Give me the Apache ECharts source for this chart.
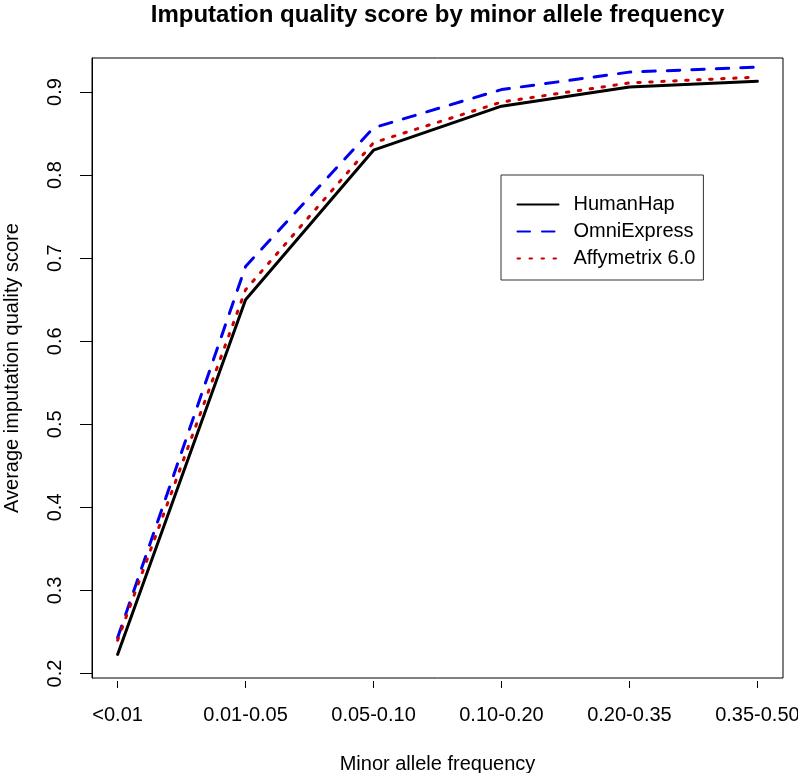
<!DOCTYPE html>
<html>
<head>
<meta charset="utf-8">
<script src="https://cdn.jsdelivr.net/npm/echarts@6/dist/echarts.min.js"></script>
<style>
html,body{margin:0;padding:0;background:#fff;}
#chart{width:798px;height:773px;}
</style>
</head>
<body>
<div id="chart"></div>
<script>
const categories = ['<0.01', '0.01-0.05', '0.05-0.10', '0.10-0.20', '0.20-0.35', '0.35-0.50'];
const humanHap = [0.223, 0.650, 0.830, 0.883, 0.906, 0.913];
const omniExpress = [0.243, 0.690, 0.857, 0.903, 0.924, 0.930];
const affymetrix = [0.240, 0.662, 0.839, 0.888, 0.911, 0.918];
const yTicks = [0.2, 0.3, 0.4, 0.5, 0.6, 0.7, 0.8, 0.9];
const xTicks = categories.map((c, i) => i);

const FONT = "'Liberation Sans', Arial, Helvetica, sans-serif";
const toPts = arr => arr.map((v, i) => [i, v]);

const chart = echarts.init(document.getElementById('chart'), null, {renderer: 'canvas'});
chart.setOption({
  animation: false,
  backgroundColor: '#fff',
  textStyle: {fontFamily: FONT, color: '#000'},
  title: {
    text: 'Imputation quality score by minor allele frequency',
    left: 437.5,
    top: 3,
    padding: 0,
    textAlign: 'center',
    textStyle: {fontFamily: FONT, fontSize: 24, fontWeight: 'bold', color: '#000'}
  },
  grid: {
    left: 92, right: 15, top: 58, bottom: 95,
    outerBoundsMode: 'none',
    containLabel: false,
    show: true, borderColor: '#000', borderWidth: 1, backgroundColor: 'transparent'
  },
  legend: {
    orient: 'vertical',
    left: 501,
    top: 175,
    padding: [19.5, 8, 11.5, 15.5],
    itemWidth: 41,
    itemHeight: 14,
    itemGap: 7,
    borderColor: '#333',
    borderWidth: 1,
    borderRadius: 0,
    selectedMode: false,
    itemStyle: {color: 'rgba(0,0,0,0)', borderWidth: 0, opacity: 0},
    textStyle: {fontFamily: FONT, fontSize: 20, color: '#000', padding: [0, 0, 0, 10]},
    data: ['HumanHap', 'OmniExpress', 'Affymetrix 6.0']
  },
  xAxis: {
    type: 'value',
    min: -0.2,
    max: 5.2,
    offset: 3,
    name: 'Minor allele frequency',
    nameLocation: 'middle',
    nameGap: 73,
    nameTextStyle: {fontFamily: FONT, fontSize: 20, color: '#000'},
    axisLine: {show: false, onZero: false},
    axisTick: {show: true, length: 7, lineStyle: {color: '#000', width: 1}, customValues: xTicks},
    axisLabel: {
      show: true, margin: 24, fontFamily: FONT, fontSize: 20, color: '#000',
      customValues: xTicks,
      formatter: v => categories[Math.round(v)]
    },
    splitLine: {show: false}
  },
  yAxis: {
    type: 'value',
    min: 0.1946,
    max: 0.941,
    name: 'Average imputation quality score',
    nameLocation: 'middle',
    nameRotate: 90,
    nameGap: 70,
    nameTextStyle: {fontFamily: FONT, fontSize: 20, color: '#000'},
    axisLine: {show: true, onZero: false, lineStyle: {color: '#000', width: 1}},
    axisTick: {show: true, length: 12, lineStyle: {color: '#000', width: 1}, customValues: yTicks},
    axisLabel: {
      show: true, rotate: 90, margin: 27, fontFamily: FONT, fontSize: 20, color: '#000',
      customValues: yTicks,
      formatter: v => v.toFixed(1)
    },
    splitLine: {show: false}
  },
  series: [
    {
      name: 'HumanHap', type: 'line', data: toPts(humanHap), symbol: 'none',
      lineStyle: {color: '#000', width: 3, type: 'solid', cap: 'round', join: 'round'},
      itemStyle: {color: '#000'}
    },
    {
      name: 'OmniExpress', type: 'line', data: toPts(omniExpress), symbol: 'none',
      lineStyle: {color: '#0000ee', width: 3, type: [12.5, 12], cap: 'round', join: 'round'},
      itemStyle: {color: '#0000ee'}
    },
    {
      name: 'Affymetrix 6.0', type: 'line', data: toPts(affymetrix), symbol: 'none',
      lineStyle: {color: '#cc0000', width: 3, type: [2.5, 9.5], cap: 'round', join: 'round'},
      itemStyle: {color: '#cc0000'}
    }
  ]
});
</script>
</body>
</html>
